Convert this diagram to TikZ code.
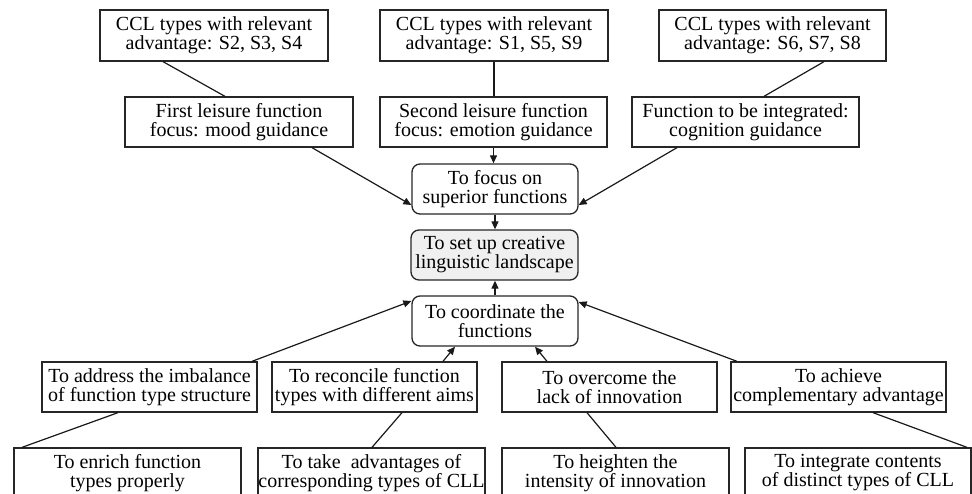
\documentclass[tikz,border=0pt]{standalone}
\usepackage{fontspec}
\setmainfont{Liberation Serif}
\usetikzlibrary{arrows.meta}
\tikzset{
  box/.style={draw=black!85, line width=1.3pt, rectangle, inner sep=0pt, align=center,
    font=\fontsize{20}{19}\selectfont},
  rbox/.style={box, rounded corners=8pt},
  link/.style={line width=1.2pt, draw=black!90},
  arr/.style={link, -{Triangle[length=8pt,width=7pt]}}
}
\begin{document}
\begin{tikzpicture}[x=1pt,y=-1pt]
\useasboundingbox (0,0) rectangle (972,493);
\clip (0,0) rectangle (972,493);
% top row
\node[box, minimum width=228pt, minimum height=51pt] (T1) at (214,35.5) {CCL types with relevant\\advantage: S2, S3, S4};
\node[box, minimum width=228pt, minimum height=51pt] (T2) at (494,35.5) {CCL types with relevant\\advantage: S1, S5, S9};
\node[box, minimum width=227pt, minimum height=51pt] (T3) at (772.5,35.5) {CCL types with relevant\\advantage: S6, S7, S8};
% second row
\node[box, minimum width=228pt, minimum height=50pt] (M1) at (239,122) {First leisure function\\focus: mood guidance};
\node[box, minimum width=227pt, minimum height=50pt] (M2) at (493.5,122) {Second leisure function\\focus: emotion guidance};
\node[box, minimum width=227pt, minimum height=50pt] (M3) at (745.5,122) {Function to be integrated:\\cognition guidance};
% centre column
\node[rbox, minimum width=166pt, minimum height=50pt] (F) at (495,189) {To focus on\\superior functions};
\node[rbox, fill=black!6, minimum width=167pt, minimum height=50pt] (S) at (494.5,255) {To set up creative\\linguistic landscape};
\node[rbox, minimum width=166pt, minimum height=50pt] (C) at (495,321) {To coordinate the\\functions};
% third row
\node[box, minimum width=215pt, minimum height=50pt] (B1) at (149.5,387) {To address the imbalance\\of function type structure};
\node[box, minimum width=205pt, minimum height=50pt] (B2) at (374.5,387) {To reconcile function\\types with different aims};
\node[box, minimum width=215pt, minimum height=50pt] (B3) at (609.5,387) {To overcome the\\lack of innovation};
\node[box, minimum width=215pt, minimum height=50pt] (B4) at (838.5,387) {To achieve\\complementary advantage};
% bottom row (cut off)
\node[box, minimum width=227pt, minimum height=50pt] (C1) at (127.5,473) {To enrich function\\types properly};
\node[box, minimum width=227pt, minimum height=50pt] (C2) at (371.5,473) {To take\ \ advantages of\\corresponding types of CLL};
\node[box, minimum width=227pt, minimum height=50pt] (C3) at (615.5,473) {To heighten the\\intensity of innovation};
\node[box, minimum width=226pt, minimum height=50pt] (C4) at (858,473) {To integrate contents\\of distinct types of CLL};
% connectors top
\draw[link] ([xshift=-51pt]T1.south) -- ([xshift=-14pt]M1.north);
\draw[link] (T2.south) -- (T2.south |- M2.north);
\draw[link] ([xshift=51.5pt]T3.south) -- ([xshift=18.5pt]M3.north);
\draw[arr] ([xshift=73pt]M1.south) -- ([yshift=-16pt]F.west);
\draw[arr] (M2.south) -- (M2.south |- F.north);
\draw[arr] ([xshift=-68.5pt]M3.south) -- ([yshift=-16pt]F.east);
\draw[arr] (F.south) -- (F.south |- S.north);
\draw[arr] (C.north) -- (C.north |- S.south);
% connectors bottom
\draw[arr] ([xshift=102.5pt]B1.north) -- ([yshift=20pt]C.west);
\draw[arr] ([xshift=68.5pt]B2.north) -- ([xshift=-40pt]C.south);
\draw[arr] ([xshift=-62.5pt]B3.north) -- ([xshift=40pt]C.south);
\draw[arr] ([xshift=-101.5pt]B4.north) -- ([yshift=19pt]C.east);
\draw[link] ([xshift=-105.5pt]C1.north) -- ([xshift=-31.5pt]B1.south);
\draw[link] ([xshift=0.5pt]C2.north) -- ([xshift=27.5pt]B2.south);
\draw[link] ([xshift=0.5pt]C3.north) -- ([xshift=-22.5pt]B3.south);
\draw[link] ([xshift=109pt]C4.north) -- ([xshift=34.5pt]B4.south);
\end{tikzpicture}
\end{document}
